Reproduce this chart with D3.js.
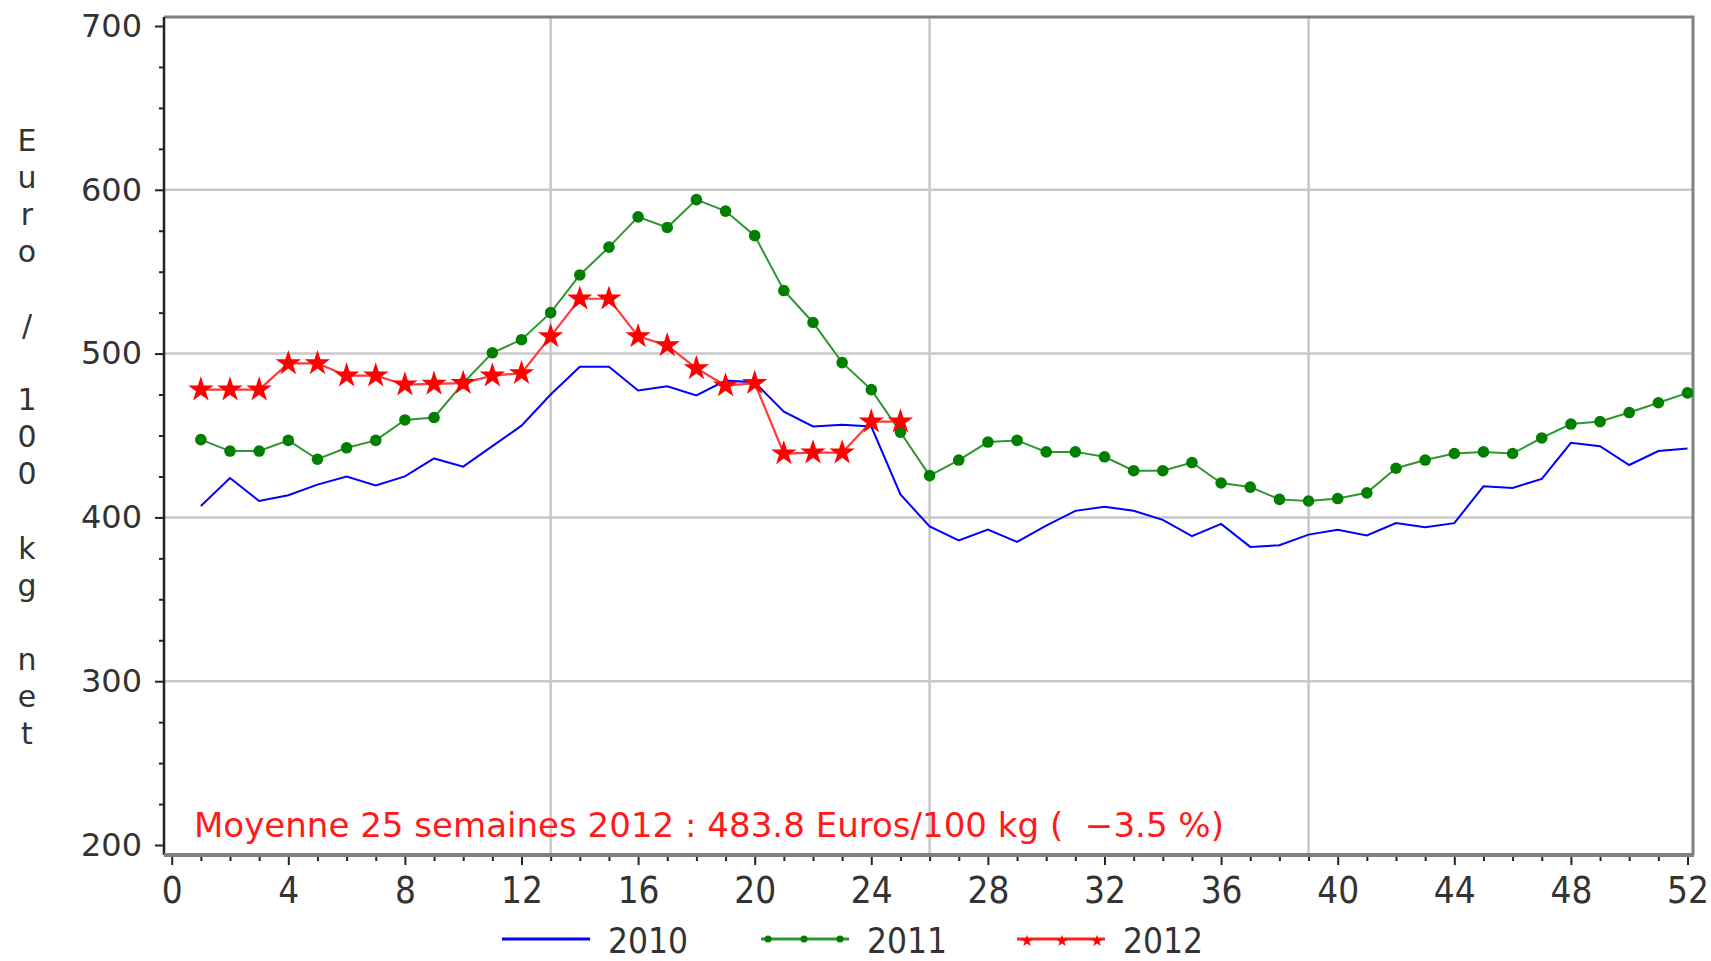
<!DOCTYPE html>
<meta charset="utf-8">
<html>
<head><title>Prix hebdomadaire - Euro / 100 kg net</title></head>
<style>
body { margin: 0; background: #fff; }
svg text { font-family: "DejaVu Sans", sans-serif; }
</style>
<body>
<svg id="chart" width="1711" height="961"></svg>
<script src="https://d3js.org/d3.v7.min.js"></script>
<script>

// data (weeks 1..52)
var weeks = d3.range(1, 53);
var years = ["2010", "2011", "2012"];
var v2010 = [407, 424, 410, 413.5, 420, 425, 419.5, 425, 436, 431,
             443.5, 456, 475, 492, 492, 477.5, 480, 474.5, 483.5, 482.5,
             464.5, 455.5, 456.5, 455.5, 414, 394.5, 386, 392.5, 385, 395,
             404, 406.5, 404, 398.5, 388.5, 396, 382, 383, 389.5, 392.5,
             389, 396.5, 394, 396.5, 419, 418, 423.5, 445.5, 443.5, 432,
             440.5, 442];
var v2011 = [447.5, 440.5, 440.5, 447, 435.5, 442.5, 447, 459.5, 461, 482,
             500.5, 508.5, 525, 548, 565, 583.5, 577, 594, 587, 572,
             538.5, 519, 494.5, 478, 452, 425.5, 435, 446, 447, 440,
             440, 437, 428.5, 428.5, 433.5, 421, 418.5, 411, 410, 411.5,
             415, 430, 435, 439, 440, 439, 448.5, 457, 458.5, 464,
             470, 476];
var v2012 = [478, 478, 478, 494, 494, 486.5, 486.5, 481, 481.5, 482,
             486.5, 488, 510.5, 533.5, 533.5, 510.5, 505, 491, 480.5, 482,
             439, 439.5, 439.5, 458.5, 458.5];

var yTicks = [200, 300, 400, 500, 600, 700];
var yGrid = [300, 400, 500, 600];
var xTicks = d3.range(0, 53, 4);
var xGrid = [13, 26, 39];
var note = "Moyenne 25 semaines 2012 : 483.8 Euros/100 kg (  \u22123.5 %)";
var yTitle = "Euro / 100 kg net";

var svg = d3.select("svg");

// frame
var fL = 164, fR = 1693, fT = 17, fB = 853;

var x = d3.scaleLinear().domain([0, 52]).range([171.7, 1687.5]);
var y = d3.scaleLinear().domain([200, 700]).range([845, 26]);

// grid
svg.append("g").selectAll("line")
  .data(yGrid).enter().append("line")
  .attr("x1", fL).attr("x2", fR)
  .attr("y1", function(d) { return y(d); })
  .attr("y2", function(d) { return y(d); })
  .style("stroke", "#c8c8c8").style("stroke-width", 2.5);

svg.append("g").selectAll("line")
  .data(xGrid).enter().append("line")
  .attr("y1", fT).attr("y2", fB)
  .attr("x1", function(d) { return x(d); })
  .attr("x2", function(d) { return x(d); })
  .style("stroke", "#c8c8c8").style("stroke-width", 2.5);

// top + right border
svg.append("path")
  .attr("d", "M" + fL + "," + fT + "H" + fR + "V" + (fB + 2))
  .style("fill", "none").style("stroke", "#808080").style("stroke-width", 3);

// y axis
var yMinor = d3.range(225, 700, 25).filter(function(d) { return d % 100 != 0; });
var yAxis = svg.append("g").attr("transform", "translate(" + fL + ",0)")
  .call(d3.axisLeft(y).tickValues(yTicks).tickSize(9).tickPadding(13).tickFormat(d3.format("d")));
yAxis.append("g")
  .call(d3.axisLeft(y).tickValues(yMinor).tickSize(5).tickFormat(""));
yAxis.selectAll(".domain").remove();
yAxis.selectAll("line").style("stroke", "#222").style("stroke-width", 2);
yAxis.selectAll("text")
  .style("font-size", "32px").style("fill", "#333");
svg.append("line")
  .attr("x1", fL).attr("x2", fL).attr("y1", fT).attr("y2", fB + 2)
  .style("stroke", "#222").style("stroke-width", 2.5);

// x axis
var xAxis = svg.append("g").attr("transform", "translate(0," + (fB + 3) + ")")
  .call(d3.axisBottom(x).tickValues(xTicks).tickSize(9).tickPadding(12));
xAxis.append("g")
  .call(d3.axisBottom(x).tickValues(d3.range(1, 53).filter(function(d) { return d % 4 != 0; })).tickSize(5).tickFormat(""));
xAxis.selectAll(".domain").remove();
xAxis.selectAll("line").style("stroke", "#222").style("stroke-width", 2);
xAxis.selectAll("text")
  .style("font-size", "37px").style("fill", "#333")
  .attr("transform", "scale(0.89,1)");
svg.append("line")
  .attr("x1", fL).attr("x2", fR + 1).attr("y1", fB + 2).attr("y2", fB + 2)
  .style("stroke", "#808080").style("stroke-width", 4);

// y title, one character per line
svg.append("g").selectAll("text")
  .data(yTitle.split("")).enter().append("text")
  .attr("x", 27)
  .attr("y", function(d, i) { return 140 + i * 37.1; })
  .attr("text-anchor", "middle")
  .attr("dominant-baseline", "central")
  .style("font-size", "30px").style("fill", "#333")
  .text(function(d) { return d; });

// series
var line = d3.line()
  .x(function(d, i) { return x(weeks[i]); })
  .y(function(d) { return y(d); });

svg.append("path").datum(v2010)
  .attr("d", line)
  .style("fill", "none").style("stroke", "#0000ff").style("stroke-width", 2);

svg.append("path").datum(v2011)
  .attr("d", line)
  .style("fill", "none").style("stroke", "#2f962f").style("stroke-width", 2);
svg.append("g").selectAll("circle")
  .data(v2011).enter().append("circle")
  .attr("cx", function(d, i) { return x(weeks[i]); })
  .attr("cy", function(d) { return y(d); })
  .attr("r", 5.8)
  .style("fill", "#007f00");

svg.append("path").datum(v2012)
  .attr("d", line)
  .style("fill", "none").style("stroke", "#ff3a3a").style("stroke-width", 2.2);
var star = d3.symbol().type(d3.symbolStar).size(200);
svg.append("g").selectAll("path")
  .data(v2012).enter().append("path")
  .attr("d", star)
  .attr("transform", function(d, i) { return "translate(" + x(weeks[i]) + "," + y(d) + ")"; })
  .style("fill", "#ff0000");

// note
svg.append("text")
  .attr("x", 194).attr("y", 837)
  .attr("textLength", 1030).attr("lengthAdjust", "spacingAndGlyphs")
  .style("font-size", "33px").style("fill", "#ff1a1a")
  .style("white-space", "pre")
  .text(note);

// legend
var legX = [502, 761, 1017];
var legColor = ["#0000ff", "#2f962f", "#ff2020"];
var legend = svg.selectAll("g.legendEntry")
  .data(years).enter()
  .append("g").attr("class", "legendEntry")
  .attr("transform", function(d, i) { return "translate(" + legX[i] + ",939)"; });

legend.append("line")
  .attr("x1", 0).attr("x2", 88)
  .style("stroke", function(d, i) { return legColor[i]; })
  .style("stroke-width", 3);

legend.filter(function(d, i) { return i == 1; }).selectAll("circle")
  .data([7, 43, 79]).enter().append("circle")
  .attr("cx", function(d) { return d; }).attr("r", 3.5)
  .style("fill", "#007f00");

legend.filter(function(d, i) { return i == 2; }).selectAll("path")
  .data([10, 45, 80]).enter().append("path")
  .attr("d", d3.symbol().type(d3.symbolStar).size(45))
  .attr("transform", function(d) { return "translate(" + d + ",2)"; })
  .style("fill", "#ff0000");

legend.append("text")
  .attr("x", 106 / 0.9).attr("y", 14)
  .attr("transform", "scale(0.9,1)")
  .style("font-size", "35px").style("fill", "#333")
  .text(function(d) { return d; });

</script>
</body>
</html>
